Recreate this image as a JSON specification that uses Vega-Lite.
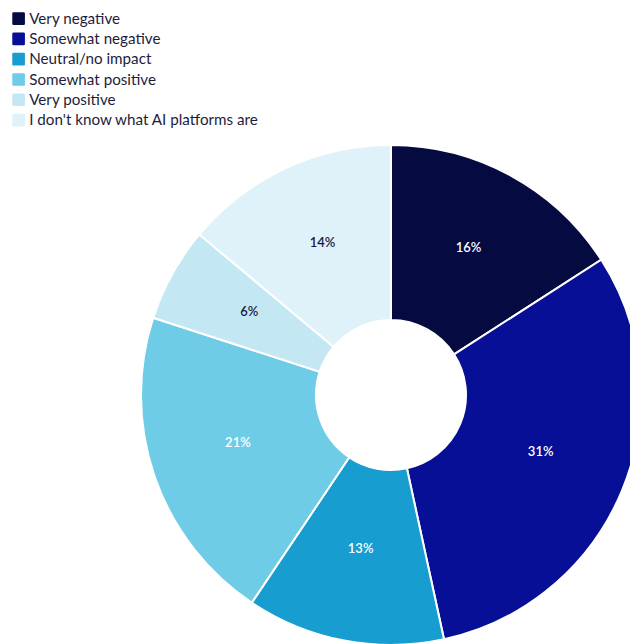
{
  "$schema": "https://vega.github.io/schema/vega-lite/v6.json",
  "autosize": "none",
  "width": 500,
  "height": 500,
  "padding": {"left": 141, "top": 145, "right": 0, "bottom": 0},
  "background": "white",
  "config": {"view": {"stroke": null}, "font": "Lato"},
  "data": {
    "values": [
      {"category": "Very negative", "order": 1, "share": 0.159},
      {"category": "Somewhat negative", "order": 2, "share": 0.307},
      {"category": "Neutral/no impact", "order": 3, "share": 0.128},
      {"category": "Somewhat positive", "order": 4, "share": 0.206},
      {"category": "Very positive", "order": 5, "share": 0.061},
      {"category": "I don't know what AI platforms are", "order": 6, "share": 0.139}
    ]
  },
  "encoding": {
    "theta": {"field": "share", "type": "quantitative", "stack": true},
    "order": {"field": "order", "type": "quantitative"}
  },
  "layer": [
    {
      "mark": {"type": "arc", "innerRadius": 75, "outerRadius": 250, "stroke": "white", "strokeWidth": 2},
      "encoding": {
        "color": {
          "field": "category",
          "type": "nominal",
          "sort": null,
          "scale": {
            "domain": ["Very negative", "Somewhat negative", "Neutral/no impact", "Somewhat positive", "Very positive", "I don't know what AI platforms are"],
            "range": ["#050a40", "#070f96", "#179dd0", "#6ecce6", "#c4e8f3", "#dff1f9"]
          },
          "legend": {
            "title": null,
            "orient": "none",
            "legendX": -130,
            "legendY": -134,
            "symbolType": "M-0.8,-1 L0.8,-1 Q1,-1 1,-0.8 L1,0.8 Q1,1 0.8,1 L-0.8,1 Q-1,1 -1,0.8 L-1,-0.8 Q-1,-1 -0.8,-1 Z",
            "symbolSize": 160,
            "symbolOpacity": 1,
            "symbolStrokeWidth": 0,
            "labelFontSize": 15.2,
            "labelFont": "Lato",
            "labelColor": "#1d1d3b",
            "labelOffset": 3,
            "rowPadding": 4.3,
            "labelLimit": 400
          }
        }
      }
    },
    {
      "mark": {"type": "text", "radius": 162, "dy": -5, "fontSize": 13, "fontWeight": 600, "font": "Lato"},
      "encoding": {
        "text": {"field": "share", "type": "quantitative", "format": ".0%"},
        "color": {
          "condition": {"test": "datum.order >= 5", "value": "#1a1a40"},
          "value": "#ffffff"
        }
      }
    }
  ]
}
